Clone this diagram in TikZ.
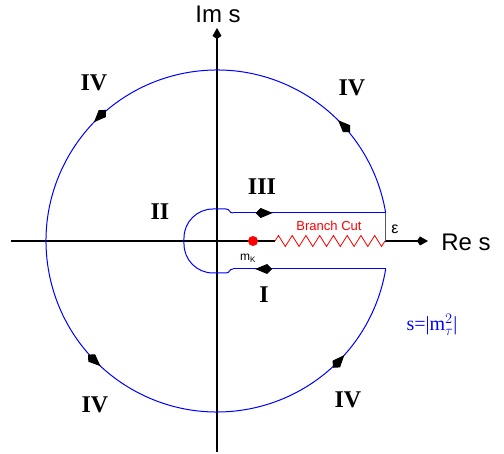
\documentclass[tikz,border=0pt]{standalone}
\usepackage{fontspec}
\setmainfont{Liberation Serif}
\setsansfont{Liberation Sans}
\usetikzlibrary{arrows.meta,decorations.markings,decorations.pathmorphing}

\begin{document}
\begin{tikzpicture}[x=1pt, y=1pt,
    axis/.style={line width=2pt},
    axistip/.style={-{Kite[length=11pt,width=9pt,inset=3pt]}},
    contour/.style={blue, line width=1pt},
    region/.style={font=\fontsize{24}{24}\selectfont\bfseries},
    sanslabel/.style={font=\sffamily\fontsize{24}{24}\selectfont}]
    \def\flowtip{\arrow[black]{Kite[length=17pt,width=10pt,inset=5pt]}}
    \useasboundingbox (-217,-213) rectangle (287,241);

    % Axes
    \draw[axis] (-206,0) -- (58,0);
    \draw[axis, axistip] (168,0) -- (211,0);
    \draw[axis, axistip] (0,-211) -- (0,213);
    \node[sanslabel] (ims) at (1,227) {Im s};
    \node[sanslabel] (res) at (249,-1) {Re s};

    % Branch cut
    \draw[red, line width=0.8pt, decorate,
          decoration={zigzag, segment length=13.75pt, amplitude=5.5pt}] (58,0) -- (168,0);
    \node[red, font=\sffamily\fontsize{13}{13}\selectfont] (cut) at (112,15) {Branch Cut};
    \fill[red] (36,0) circle (5);
    \node[font=\sffamily\fontsize{12}{12}\selectfont] (mk) at (31,-17) {m\textsubscript{K}};

    % Gap of the cut
    \draw[gray!70!black, line width=1.5pt] (168.7,0) -- (168.7,28);
    \node[font=\sffamily\fontsize{16}{16}\selectfont] (eps) at (178,12) {ε};

    % Contour: big circle
    \draw[contour, postaction=decorate, decoration={markings,
          mark=at position 0.104 with {\flowtip},
          mark=at position 0.371 with {\flowtip},
          mark=at position 0.638 with {\flowtip},
          mark=at position 0.905 with {\flowtip}}]
        (9.46:171) arc[start angle=9.46, end angle=350.54, radius=171];

    % Contour: both sides of the cut
    \draw[contour, postaction=decorate, decoration={markings,
          mark=at position 0.26 with {\flowtip}}] (16,28) -- (168.7,28);
    \draw[contour, postaction=decorate, decoration={markings,
          mark=at position 0.855 with {\flowtip}}] (168.7,-28) -- (16,-28);

    % Contour: round the origin
    \draw[contour] (16,-28) .. controls (12,-28) and (13,-32) .. (9,-32) -- (-4,-32)
        arc[start angle=270, end angle=180, radius=29] -- (-33,3)
        arc[start angle=180, end angle=90, radius=29] -- (9,32)
        .. controls (13,32) and (12,28) .. (16,28);

    % Regions
    \node[region] (ivul) at (-123,158) {IV};
    \node[region] (ivur) at (135,153) {IV};
    \node[region] (ivll) at (-122,-164) {IV};
    \node[region] (ivlr) at (131,-159) {IV};
    \node[region] (iii) at (45,54) {III};
    \node[region] (ii) at (-57,29) {II};
    \node[region] (i) at (47,-54) {I};

    \node[blue, font=\fontsize{20}{20}\selectfont] (radius) at (215,-84) {s=|m$_\tau^2$|};
\end{tikzpicture}
\end{document}
